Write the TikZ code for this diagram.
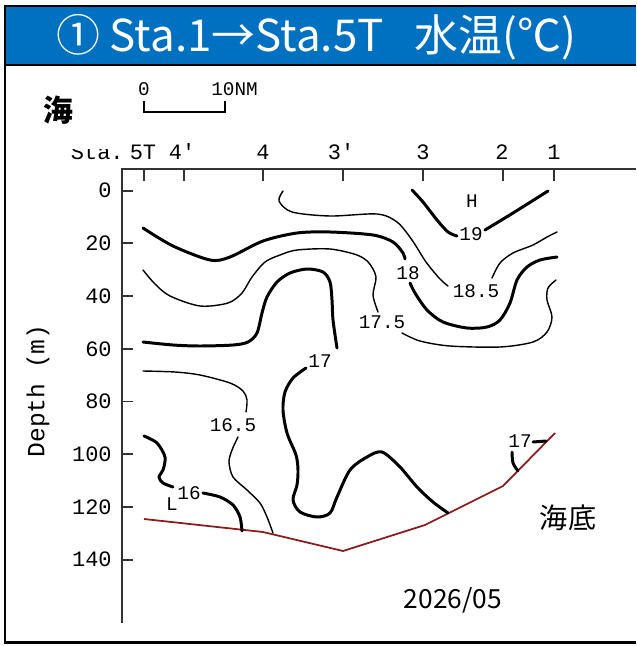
\documentclass[tikz,border=0pt]{standalone}
\usepackage{fontspec}
\setmainfont{Noto Sans CJK JP}
\newfontfamily\jpfont{Noto Sans CJK JP}
\newfontfamily\gfont{Liberation Mono}
\usetikzlibrary{positioning}

\definecolor{titleblue}{HTML}{0070C0}
\definecolor{bedred}{HTML}{8B1A1A}

\tikzset{
  thickc/.style={line width=1.7pt, line cap=round, line join=round},
  thinc/.style={line width=0.8pt, line cap=round, line join=round},
  axisline/.style={line width=1.1pt, draw=black!80},
  clabel/.style={font=\gfont\fontsize{11}{11}\selectfont, inner sep=0pt},
  ticklabel/.style={font=\gfont\fontsize{12.5}{12.5}\selectfont, inner sep=0pt},
}

\begin{document}
\begin{tikzpicture}[x=0.02cm, y=-0.02cm]
\useasboundingbox (0,0) rectangle (636,646);

% frame and title bar
\fill[titleblue] (5,6) rectangle (636,65);
\draw[line width=1.7pt] (636,6) -- (5,6) -- (5,642) -- (636,642);
\draw[line width=1.7pt] (5,65) -- (636,65);
\node[text=white, font=\jpfont\fontsize{25}{25}\selectfont] (title) at (316,37)
  {① Sta.1→Sta.5T\hspace{0.7em}水温(℃)};

% axes
\coordinate (ytop) at (122,169);
\coordinate (ybot) at (122,623);
\coordinate (xend) at (636,169);
\draw[axisline] (ybot) -- (ytop) -- (xend);

\foreach \d in {0,20,...,140} {
  \draw[axisline] (122,{190.7+2.635*\d}) -- +(11,0);
  \node[ticklabel, anchor=east] (d\d) at (112,{190.7+2.635*\d}) {\d};
}
\node[font=\gfont\fontsize{14}{14}\selectfont, rotate=90] (depth) at (38,391) {Depth (m)};

% stations
\foreach \x/\s/\n/\lx in {144/5T/s5T/143, 184/4'/s4p/182, 263/4/s4/263, 343/3'/s3p/341,
                         423/3/s3/423, 503/2/s2/502, 554/1/s1/554} {
  \draw[axisline] (\x,169) -- (\x,181);
  \node[ticklabel, anchor=base] (\n) at (\lx,159) {\s};
}
\begin{scope}
\clip (60,149) rectangle (128,165);
\node[ticklabel, anchor=base east] (sta) at (124,159) {Sta.};
\end{scope}

% scale bar
\node[clabel, anchor=base] (nm0) at (144,95) {0};
\node[clabel, anchor=base west] (nm10) at (211,95) {10NM};
\draw[line width=1pt] (144,101) -- (144,112) -- (225,112) -- (225,101);

\node[font=\jpfont\bfseries\fontsize{17}{17}\selectfont] (sea) at (58,110) {海};
\node[font=\jpfont\fontsize{16}{16}\selectfont] (seabed) at (568,518) {海底};
\node[font=\jpfont\fontsize{15}{15}\selectfont] (date) at (453,600) {2026/05};

% sea floor
\coordinate (b5T) at (144,519);
\coordinate (b4) at (263,532);
\coordinate (b3p) at (343,551);
\coordinate (b3) at (425,525);
\coordinate (b2) at (503,486);
\coordinate (b1) at (555,433);
\draw[bedred, line width=1pt] (b5T) -- (b4) -- (b3p) -- (b3) -- (b2) -- (b1);

% contour labels
\node[clabel] (hi) at (472,201) {H};
\node[clabel] (lo) at (172,504) {L};
\node[clabel] (c19) at (471,234) {19};
\node[clabel] (c185) at (476,291) {18.5};
\node[clabel] (c18) at (408,273) {18};
\node[clabel] (c175) at (382,322) {17.5};
\node[clabel] (c17a) at (320,361) {17};
\node[clabel] (c17b) at (520,441) {17};
\node[clabel] (c165) at (233,425) {16.5};
\node[clabel] (c16) at (189,493) {16};

% 19
\draw[thickc] plot[smooth] coordinates {(412,190) (423,202) (437,220) (448,232) (457,236)};
\draw[thickc] plot[smooth] coordinates {(485,230) (513,213) (548,191)};

% 18.5
\draw[thinc] plot[smooth] coordinates {(283,191) (279,201) (292,212) (330,216) (377,214)
  (397,222) (412,240) (426,262) (440,279) (448,286)};
\draw[thinc] plot[smooth] coordinates {(492,278) (500,263) (513,253) (533,245) (547,237) (557,232)};

% 18
\draw[thickc] plot[smooth] coordinates {(143,228) (173,246) (210,260) (230,257) (263,241)
  (297,233) (330,232) (373,235) (393,242) (403,253) (405,259)};
\draw[thickc] plot[smooth] coordinates {(410,283) (415,293) (427,310) (443,322) (467,328)
  (487,327) (500,320) (510,303) (517,280) (527,267) (540,260) (557,257)};

% 17.5
\draw[thinc] plot[smooth] coordinates {(143,270) (155,284) (170,296) (200,306) (228,303)
  (242,293) (252,277) (265,262) (280,255) (297,250) (330,249) (357,255) (369,263)
  (376,277) (373,295) (378,312)};
\draw[thinc] plot[smooth] coordinates {(402,333) (420,341) (450,346) (500,347) (533,342)
  (547,332) (552,317) (547,300) (548,288) (556,280)};

% 17
\draw[thickc] plot[smooth] coordinates {(143,342) (173,345) (200,346) (233,345) (248,342)
  (257,333) (262,313) (267,297) (277,282) (290,273) (307,269) (323,272) (330,282)
  (332,300) (333,320) (337,348)};
\draw[thickc] plot[smooth] coordinates {(306,368) (293,378) (285,392) (283,410) (287,433)
  (296,455) (298,470) (297,485) (293,500) (300,512) (317,517) (330,513) (337,497)
  (350,470) (367,457) (382,452) (400,467) (417,487) (433,502) (448,513)};
\draw[thickc] plot[smooth] coordinates {(512,452) (513,463) (518,471)};
\draw[thickc] (533,442) -- (546,441);

% 16.5
\draw[thinc] plot[smooth] coordinates {(143,371) (175,372) (200,375) (230,383) (243,391)
  (247,400) (246,412)};
\draw[thinc] plot[smooth] coordinates {(238,437) (232,450) (229,462) (233,477) (247,490)
  (260,503) (267,517) (273,533)};

% 16
\draw[thickc] plot[smooth] coordinates {(144,436) (157,443) (165,457) (163,470) (159,477)
  (163,483) (173,487)};
\draw[thickc] plot[smooth] coordinates {(203,493) (220,497) (233,505) (240,517) (242,531)};

\end{tikzpicture}
\end{document}
